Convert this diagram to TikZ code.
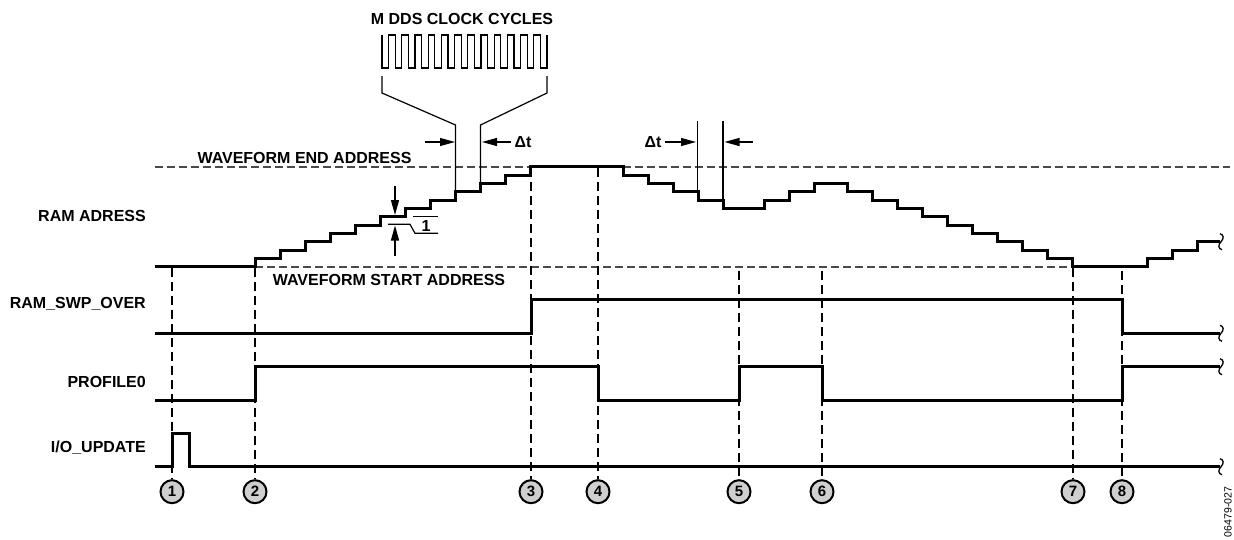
\documentclass[tikz,border=0pt]{standalone}
\usepackage{fontspec}
\setmainfont{Liberation Sans}
\usetikzlibrary{arrows.meta}
\definecolor{dashgray}{HTML}{4A4A4A}
\definecolor{markfill}{HTML}{CFCFCF}
\tikzset{
  sig/.style={line width=3pt,line join=miter},
  guide/.style={line width=1.2pt},
  vdash/.style={dash pattern=on 9pt off 5pt,line width=1.6pt},
  hdash/.style={dash pattern=on 7.5pt off 4.5pt,line width=1.2pt,dashgray},
  lbl/.style={font=\bfseries\fontsize{16}{19}\selectfont,inner sep=0pt},
  evt/.style={circle,draw,line width=2pt,fill=markfill,minimum size=23pt,inner sep=0pt,font=\bfseries\fontsize{15}{17}\selectfont},
  dim/.style={-{Triangle[length=15pt,width=8pt]},line width=1.2pt},
  brk/.pic={\draw[line width=1.3pt] (-1,-8) .. controls (3,-7) and (3,-3) .. (0,0) .. controls (-3,3) and (-3,7) .. (1,8);},
}
\begin{document}
\begin{tikzpicture}[x=1pt,y=-1pt]
\useasboundingbox (0,0) rectangle (1234,539);
% signal names
\node[lbl,anchor=east] (nram)  at (146,216) {RAM ADRESS};
\node[lbl,anchor=east] (nswp)  at (146,304) {RAM\_SWP\_OVER};
\node[lbl,anchor=east] (nprof) at (146,382) {PROFILE0};
\node[lbl,anchor=east] (nio)   at (146,448) {I/O\_UPDATE};
% address limits
\draw[hdash] (155,167) -- (1230,167);
\draw[hdash] (255,267) -- (1073,267);
\node[lbl] (endaddr)   at (304.5,158) {WAVEFORM END ADDRESS};
\node[lbl] (startaddr) at (389,280) {WAVEFORM START ADDRESS};
% event markers
\foreach \n/\x/\t in {1/172/268,2/255/268,3/531/168,4/598/168,5/739/271,6/822/271,7/1073/268,8/1122/271} {
  \node[evt] (e\n) at (\x,491.7) {\n};
  \draw[vdash] (\x,\t) -- (e\n.north);
}
% RAM address staircase
\draw[sig] (155,266.7) foreach \i in {1,...,12} { -| ({230+25*\i},{266.7-8.333*\i}) }
  -| (623,175) -| (648,183.3) -| (673,191.7) -| (698,200) -| (723,208.3)
  -| (764,200) -| (789,191.7) -| (814,183.3) -| (847,191.7)
  foreach \i in {1,...,9} { -| ({847+25*\i},{191.7+8.333*\i}) }
  -| (1147,258.3) -| (1172,250) -| (1197,241.7) -- (1220,241.7);
\draw[sig] (155,333.3) -| (531,299) -| (1122,333.3) -- (1220,333.3);
\draw[sig] (155,400) -| (255,366.7) -| (598,400) -| (739,366.7) -| (822,400) -| (1122,366.7) -- (1220,366.7);
\draw[sig] (155,466.7) -| (172,433.3) -| (189,466.7) -- (1220,466.7);
\foreach \y in {241.7,333.3,366.7,466.7}
  \pic at (1221,\y) {brk};
% step height
\draw[dim] (395,186) -- (395,215);
\draw[dim] (395,256) -- (395,225.5);
\draw[guide] (413,216.7) -- (438,216.7);
\draw[guide] (388,224.3) -- (410,224.3) -- (415,233.3) -- (438,233.3);
\node[lbl] (one) at (426,225.5) {1};
% DDS clock
\node[lbl] (clk) at (462,19) {M DDS CLOCK CYCLES};
\draw[guide] (382,35) foreach \i in {0,...,11} { |- ({382+13.2*\i+6.6},68) |- ({382+13.2*(\i+1)},35) } |- (547,68) -- (547,35);
\draw[guide] (382,76) -- (382,93) -- (455.5,125) -- (455.5,192);
\draw[guide] (547,76) -- (547,93) -- (480.5,125) -- (480.5,184);
\draw[dim] (425,142) -- (455,142);
\draw[dim] (511,142) -- (482,142);
\node[lbl] (dt1) at (523,142) {Δt};
% second dwell
\draw[guide] (697.5,121) -- (697.5,200);
\draw[guide] (723,121) -- (723,208.3);
\draw[dim] (665,142) -- (696,142);
\draw[dim] (753,142) -- (724.5,142);
\node[lbl] (dt2) at (653,142) {Δt};
\node[rotate=90,font=\fontsize{10.5}{12}\selectfont,inner sep=0pt] (fig) at (1228,512) {06479-027};
\end{tikzpicture}
\end{document}
